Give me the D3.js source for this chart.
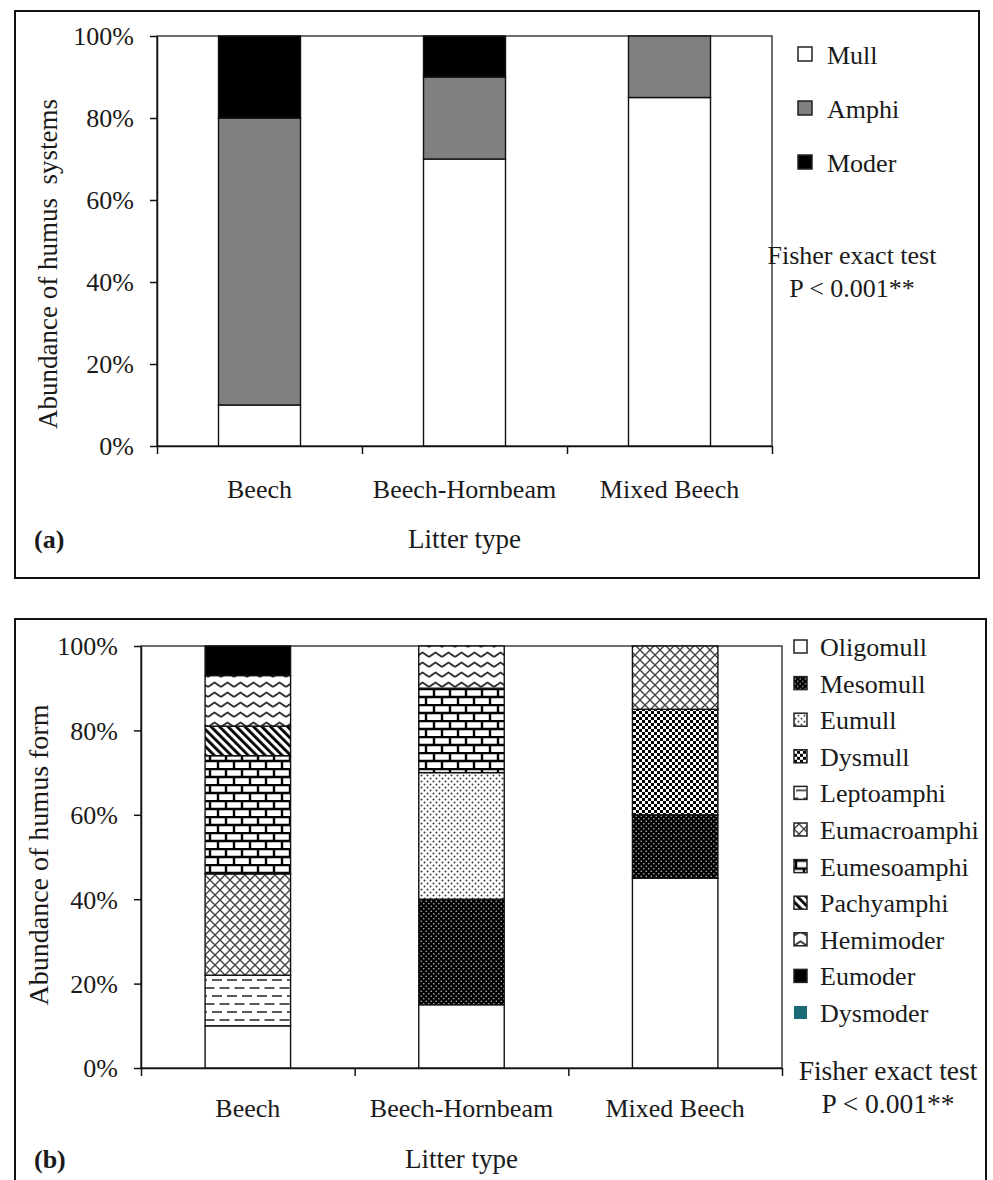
<!DOCTYPE html>
<html>
<head>
<meta charset="utf-8">
<script src="https://cdn.jsdelivr.net/npm/d3@7"></script>
<style>
  body { margin: 0; background: #fff; }
  text { font-family: "Liberation Serif", "Times New Roman", serif; fill: #1a1a1a; }
</style>
</head>
<body>
<div id="chart"></div>
<script>
var litterTypes = ["Beech", "Beech-Hornbeam", "Mixed Beech"];
var yTicks = [0, 20, 40, 60, 80, 100];

// (a) humus systems, % of plots per litter type
var systemNames = ["Mull", "Amphi", "Moder"];
var mull  = [10, 70, 85];
var amphi = [70, 20, 15];
var moder = [20, 10, 0];

// (b) humus forms, % of plots per litter type
var formNames = ["Oligomull", "Mesomull", "Eumull", "Dysmull", "Leptoamphi", "Eumacroamphi",
  "Eumesoamphi", "Pachyamphi", "Hemimoder", "Eumoder", "Dysmoder"];
var oligomull    = [10, 15, 45];
var mesomull     = [0, 25, 15];
var eumull       = [0, 30, 0];
var dysmull      = [0, 0, 25];
var leptoamphi   = [12, 0, 0];
var eumacroamphi = [24, 0, 15];
var eumesoamphi  = [28, 20, 0];
var pachyamphi   = [7, 0, 0];
var hemimoder    = [12, 10, 0];
var eumoder      = [7, 0, 0];
var dysmoder     = [0, 0, 0];

var formValues = [oligomull, mesomull, eumull, dysmull, leptoamphi, eumacroamphi,
  eumesoamphi, pachyamphi, hemimoder, eumoder, dysmoder];

var svgWidth = 993;
var svgHeight = 1180;

var svg = d3.select("#chart")
  .append("svg")
  .attr("width", svgWidth)
  .attr("height", svgHeight);

var defs = svg.append("defs");

// fill patterns, Excel style
function pattern(id, w, h) {
  var p = defs.append("pattern")
    .attr("id", id)
    .attr("patternUnits", "userSpaceOnUse")
    .attr("width", w)
    .attr("height", h);
  p.append("rect").attr("width", w).attr("height", h).attr("fill", "#fff");
  return p;
}

var p = pattern("pat-mesomull", 5, 5);
p.append("rect").attr("width", 5).attr("height", 5).attr("fill", "#000");
p.append("circle").attr("cx", 1.25).attr("cy", 1.25).attr("r", 0.8).attr("fill", "#bbb");
p.append("circle").attr("cx", 3.75).attr("cy", 3.75).attr("r", 0.8).attr("fill", "#bbb");

p = pattern("pat-eumull", 6, 6);
p.append("circle").attr("cx", 1.5).attr("cy", 1.5).attr("r", 0.95).attr("fill", "#333");
p.append("circle").attr("cx", 4.5).attr("cy", 4.5).attr("r", 0.95).attr("fill", "#333");

p = pattern("pat-dysmull", 6, 6);
p.append("rect").attr("width", 3).attr("height", 3).attr("fill", "#000");
p.append("rect").attr("x", 3).attr("y", 3).attr("width", 3).attr("height", 3).attr("fill", "#000");

p = pattern("pat-leptoamphi", 15, 16);
p.append("path").attr("d", "M2,4H12M9.5,12H15M0,12H4.5").attr("stroke", "#222").attr("stroke-width", 1.7);

p = pattern("pat-eumacroamphi", 10, 10);
p.append("path").attr("d", "M0,0L10,10M10,0L0,10").attr("stroke", "#444").attr("stroke-width", 1.4);

p = pattern("pat-eumesoamphi", 16, 16);
p.append("path").attr("d", "M0,1H16M0,9H16M2,1V9M10,9V17").attr("stroke", "#000").attr("stroke-width", 2.4);

p = pattern("pat-pachyamphi", 6, 6).attr("patternTransform", "rotate(-45)");
p.append("rect").attr("width", 2.8).attr("height", 6).attr("fill", "#000");

p = pattern("pat-hemimoder", 13, 10);
p.append("path").attr("d", "M0,7L6.5,2.5L13,7").attr("fill", "none")
  .attr("stroke", "#333").attr("stroke-width", 1.9).attr("stroke-linejoin", "round");

var systemFills = ["#fff", "#808080", "#000"];
var formFills = ["#fff", "url(#pat-mesomull)", "url(#pat-eumull)", "url(#pat-dysmull)",
  "url(#pat-leptoamphi)", "url(#pat-eumacroamphi)", "url(#pat-eumesoamphi)",
  "url(#pat-pachyamphi)", "url(#pat-hemimoder)", "#000", "#1c6a78"];

function drawPanel(cfg) {
  var g = svg.append("g");

  g.append("rect")
    .attr("x", cfg.box[0]).attr("y", cfg.box[1])
    .attr("width", cfg.box[2]).attr("height", cfg.box[3])
    .attr("fill", "none").attr("stroke", "#111").attr("stroke-width", 2);

  var x = d3.scaleBand()
    .domain(litterTypes)
    .range([cfg.left, cfg.right])
    .paddingInner(0.6)
    .paddingOuter(0.3);

  var xEdge = d3.scaleLinear()
    .domain([0, litterTypes.length])
    .range([cfg.left, cfg.right]);

  var y = d3.scaleLinear()
    .domain([0, 100])
    .range([cfg.bottom, cfg.top]);

  // plot area border
  g.append("rect")
    .attr("x", cfg.left).attr("y", cfg.top)
    .attr("width", cfg.right - cfg.left).attr("height", cfg.bottom - cfg.top)
    .attr("fill", "none").attr("stroke", "#222").attr("stroke-width", 1.3);

  var table = litterTypes.map(function(t, i) {
    var row = { type: t };
    cfg.keys.forEach(function(k, j) { row[k] = cfg.values[j][i]; });
    return row;
  });

  var series = d3.stack().keys(cfg.keys)(table);

  g.selectAll(".layer")
    .data(series)
    .enter()
    .append("g")
    .attr("fill", function(d, i) { return cfg.fills[i]; })
    .selectAll("rect")
    .data(function(d) { return d.filter(function(s) { return s[1] - s[0] > 0; }); })
    .enter()
    .append("rect")
    .attr("x", function(d) { return x(d.data.type); })
    .attr("y", function(d) { return y(d[1]); })
    .attr("width", x.bandwidth())
    .attr("height", function(d) { return y(d[0]) - y(d[1]); })
    .attr("stroke", "#111")
    .attr("stroke-width", 1.4);

  var leftAxis = d3.axisLeft(y)
    .tickValues(yTicks)
    .tickFormat(function(d) { return d + "%"; })
    .tickSize(7)
    .tickSizeOuter(0)
    .tickPadding(16);

  var yAxis = g.append("g")
    .attr("transform", "translate(" + cfg.left + ",0)")
    .call(leftAxis);
  yAxis.selectAll("text").style("font-size", "26px").attr("dy", "0.34em");

  var bottomAxis = d3.axisBottom(xEdge)
    .tickValues(d3.range(litterTypes.length + 1))
    .tickFormat("")
    .tickSize(8)
    .tickSizeOuter(0);

  g.append("g")
    .attr("transform", "translate(0," + cfg.bottom + ")")
    .call(bottomAxis);

  g.selectAll(".domain, .tick line").attr("stroke", "#111").attr("stroke-width", 1.5);

  g.selectAll(".cat")
    .data(litterTypes)
    .enter()
    .append("text")
    .attr("x", function(d) { return x(d) + x.bandwidth() / 2; })
    .attr("y", cfg.catY)
    .attr("text-anchor", "middle")
    .style("font-size", "26px")
    .text(function(d) { return d; });

  g.append("text")
    .attr("x", (cfg.left + cfg.right) / 2)
    .attr("y", cfg.xTitleY)
    .attr("text-anchor", "middle")
    .style("font-size", "27px")
    .text("Litter type");

  g.append("text")
    .attr("transform", "translate(" + cfg.yTitleX + "," + cfg.yTitleY + ") rotate(-90)")
    .attr("text-anchor", "middle")
    .style("font-size", cfg.yTitleSize)
    .style("white-space", "pre")
    .text(cfg.yTitle);

  g.append("text")
    .attr("x", 34)
    .attr("y", cfg.xTitleY)
    .style("font-size", "26px")
    .style("font-weight", "bold")
    .text(cfg.tag);

  // legend
  var legend = g.selectAll(".legend")
    .data(cfg.keys)
    .enter()
    .append("g")
    .attr("transform", function(d, i) {
      return "translate(" + cfg.legendX + "," + (cfg.legendY + i * cfg.legendStep) + ")";
    });

  legend.append("rect")
    .attr("x", 0)
    .attr("y", -cfg.sq - 3)
    .attr("width", cfg.sq)
    .attr("height", cfg.sq)
    .attr("fill", function(d, i) { return cfg.fills[i]; })
    .attr("stroke", function(d, i) { return i === cfg.keys.length - 1 && cfg.keys.length > 3 ? "none" : "#222"; })
    .attr("stroke-width", 1.5);

  legend.append("text")
    .attr("x", cfg.legendTextDx)
    .attr("y", 0)
    .style("font-size", "26px")
    .text(function(d) { return d; });

  g.append("text")
    .attr("x", cfg.fisherX)
    .attr("y", cfg.fisherY)
    .attr("text-anchor", "middle")
    .style("font-size", cfg.fisherSize)
    .text("Fisher exact test");

  g.append("text")
    .attr("x", cfg.fisherX)
    .attr("y", cfg.fisherY + 33)
    .attr("text-anchor", "middle")
    .style("font-size", cfg.fisherSize)
    .text("P < 0.001**");
}

drawPanel({
  box: [15, 11, 964, 567],
  left: 157, right: 772, top: 36, bottom: 446,
  keys: systemNames,
  values: [mull, amphi, moder],
  fills: systemFills,
  catY: 498,
  xTitleY: 548,
  yTitleX: 57, yTitleY: 264, yTitleSize: "27px",
  yTitle: "Abundance of humus  systems",
  tag: "(a)",
  legendX: 798, legendY: 64, legendStep: 54, sq: 14, legendTextDx: 29,
  fisherX: 852, fisherY: 264, fisherSize: "26px"
});

drawPanel({
  box: [15, 619, 971, 575],
  left: 141, right: 782, top: 646, bottom: 1068,
  keys: formNames,
  values: formValues,
  fills: formFills,
  catY: 1117,
  xTitleY: 1168,
  yTitleX: 48, yTitleY: 855, yTitleSize: "28px",
  yTitle: "Abundance of humus form",
  tag: "(b)",
  legendX: 794, legendY: 656, legendStep: 36.6, sq: 13, legendTextDx: 26,
  fisherX: 888, fisherY: 1080, fisherSize: "27.5px"
});
</script>
</body>
</html>
